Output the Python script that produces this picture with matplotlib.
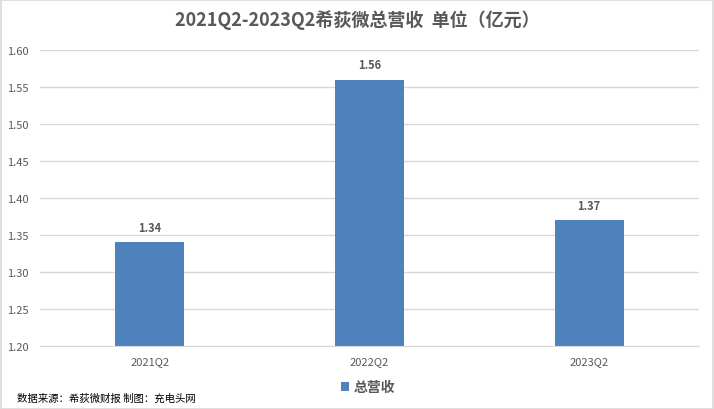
import matplotlib
matplotlib.use("Agg")
import matplotlib.pyplot as plt
from matplotlib.patches import Rectangle

plt.rcParams['font.family'] = ['Noto Sans CJK SC', 'DejaVu Sans']

categories = ["2021Q2", "2022Q2", "2023Q2"]
values = [1.34, 1.56, 1.37]
yticks = [1.20, 1.25, 1.30, 1.35, 1.40, 1.45, 1.50, 1.55, 1.60]
title = "2021Q2-2023Q2希荻微总营收  单位（亿元）"
series_name = "总营收"
footer = "数据来源：希荻微财报 制图：充电头网"

bar_color = "#4F81BD"
text_color = "#595959"
grid_color = "#D9D9D9"

fig = plt.figure(figsize=(7.14, 4.10), dpi=100)
ax = fig.add_axes([40/714, 1-347/410, 659/714, 296/410])

x = list(range(len(categories)))
bars = ax.bar(x, [v - 1.20 for v in values], bottom=1.20, width=0.314,
              color=bar_color, zorder=3, label=series_name)
ax.set_xlim(-0.5, len(categories) - 0.5)
ax.set_ylim(1.20, 1.60)
ax.set_yticks(yticks)
ax.set_yticklabels([f"{t:.2f}" for t in yticks], fontsize=8, color=text_color)
ax.set_xticks(x)
ax.set_xticklabels(categories, fontsize=8, color=text_color)
ax.tick_params(axis='both', length=0, pad=8)
ax.tick_params(axis='x', pad=7)
ax.grid(axis='y', color=grid_color, linewidth=1, zorder=0)
for s in ['top', 'right', 'left']:
    ax.spines[s].set_visible(False)
ax.spines['bottom'].set_color(grid_color)
ax.spines['bottom'].set_zorder(4)

for xi, v in zip(x, values):
    ax.annotate(f"{v:.2f}", (xi, v), xytext=(0, 6), textcoords='offset points',
                ha='center', va='bottom', fontsize=8, fontweight='bold',
                color=text_color)

fig.text(0.5, 1-20/410, title, ha='center', va='center', fontsize=13,
         fontweight='bold', color=text_color)

leg = fig.legend(handles=[bars], labels=[series_name], loc='center',
                 bbox_to_anchor=(368/714, 1-388/410), frameon=False,
                 fontsize=10, handlelength=0.6, handleheight=0.6,
                 handletextpad=0.3, labelcolor=text_color)
for t in leg.get_texts():
    t.set_fontweight('bold')

fig.text(17/714, 1-399/410, footer, ha='left', va='center', fontsize=7.5,
         color='#000000')

fig.patches.append(Rectangle((0.5/714, 0.5/410), 1-1.5/714, 1-1.5/410,
                             transform=fig.transFigure, fill=False,
                             edgecolor='#D9D9D9', linewidth=1.2))

fig.savefig("out.png", dpi=100)
